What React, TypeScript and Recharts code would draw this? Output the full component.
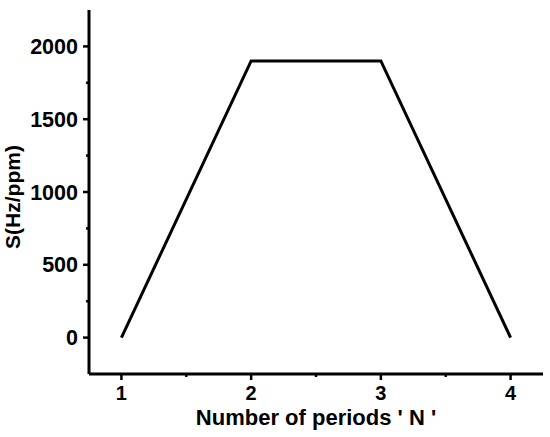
import { LineChart, Line, XAxis, YAxis } from "recharts";

// values
const periods = [1, 2, 3, 4];
const sValues = [0, 1900, 1900, 0];

const xTicks = [1, 1.5, 2, 2.5, 3, 3.5, 4];
const xMajor = [1, 2, 3, 4];
const yTicks = [0, 250, 500, 750, 1000, 1250, 1500, 1750, 2000];
const yMajor = [0, 500, 1000, 1500, 2000];

const data = periods.map((n, i) => ({ n, s: sValues[i] }));

const FONT = "'Liberation Sans', Arial, sans-serif";

function XTick(props: any) {
  const { x, y, payload } = props;
  const major = xMajor.includes(payload.value);
  return (
    <g>
      <line x1={x} y1={y} x2={x} y2={y + (major ? 6 : 3)} stroke="#000" strokeWidth={2.5} />
      {major && (
        <text x={x} y={y + 26} textAnchor="middle" fontFamily={FONT} fontWeight="bold" fontSize={20} fill="#000">
          {payload.value}
        </text>
      )}
    </g>
  );
}

function YTick(props: any) {
  const { x, y, payload } = props;
  const major = yMajor.includes(payload.value);
  return (
    <g>
      <line x1={x} y1={y} x2={x - (major ? 6 : 3)} y2={y} stroke="#000" strokeWidth={2.5} />
      {major && (
        <text x={x - 11} y={y + 7.5} textAnchor="end" fontFamily={FONT} fontWeight="bold" fontSize={21.5} fill="#000">
          {payload.value}
        </text>
      )}
    </g>
  );
}

export default function App() {
  return (
    <div style={{ position: "absolute", left: 0, top: 0, background: "#fff" }}>
      <LineChart width={550} height={437} data={data} margin={{ top: 10, right: 7, bottom: 0, left: 0 }}>
        <XAxis
          dataKey="n"
          type="number"
          domain={[0.75, 4.25]}
          ticks={xTicks}
          interval={0}
          height={63}
          tickSize={0}
          tickMargin={0}
          tickLine={false}
          axisLine={{ stroke: "#000", strokeWidth: 3 }}
          tick={<XTick />}
          label={{
            content: (p: any) => (
              <text
                x={p.viewBox.x + p.viewBox.width / 2}
                y={p.viewBox.y + 51}
                textAnchor="middle"
                fontFamily={FONT}
                fontWeight="bold"
                fontSize={22}
                fill="#000"
              >
                Number of periods ' N '
              </text>
            ),
          }}
        />
        <YAxis
          type="number"
          domain={[-250, 2250]}
          ticks={yTicks}
          interval={0}
          width={89}
          tickSize={0}
          tickMargin={0}
          tickLine={false}
          axisLine={{ stroke: "#000", strokeWidth: 3 }}
          tick={<YTick />}
          label={{
            content: () => (
              <text
                x={20}
                y={197}
                transform="rotate(-90 20 197)"
                textAnchor="middle"
                fontFamily={FONT}
                fontWeight="bold"
                fontSize={21}
                fill="#000"
              >
                S(Hz/ppm)
              </text>
            ),
          }}
        />
        <Line
          dataKey="s"
          stroke="#000"
          strokeWidth={3}
          dot={false}
          activeDot={false}
          strokeLinejoin="miter"
          isAnimationActive={false}
        />
      </LineChart>
    </div>
  );
}
